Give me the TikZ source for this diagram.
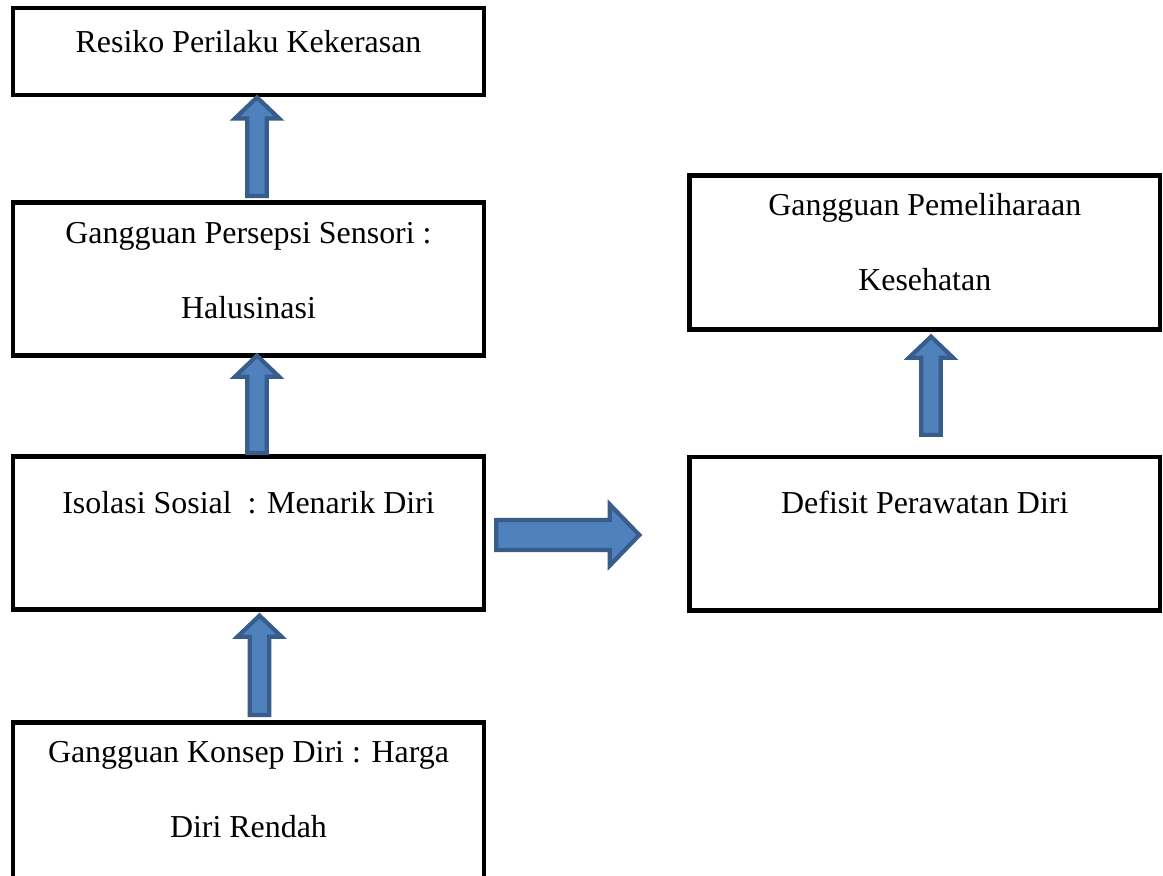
\documentclass[tikz,border=0pt]{standalone}
\usepackage{fontspec}
\setmainfont{Liberation Serif}
\usepackage{tikz}
\usetikzlibrary{calc}
\definecolor{arrowfill}{HTML}{4F81BD}
\definecolor{arrowline}{HTML}{385D8A}
\tikzset{
  box/.style={draw, line width=3pt, rectangle, inner sep=0pt, minimum width=11.775cm},
  boxtext/.style={font=\fontsize{22.7}{53.3}\selectfont, align=center, inner sep=0pt, anchor=base},
  blockarrow/.style={fill=arrowfill, draw=arrowline, line width=3pt, line join=miter}
}
\newcommand{\blockup}[2]{%
  \draw[blockarrow] let \p1=#1, \p2=#2 in
    (\x1-7pt,\y1) -- (\x1-7pt,\y2-15pt) -- (\x1-15.7pt,\y2-15pt) -- (\x1,\y2)
    -- (\x1+15.7pt,\y2-15pt) -- (\x1+7pt,\y2-15pt) -- (\x1+7pt,\y1) -- cycle;}
\newcommand{\blockright}[2]{%
  \draw[blockarrow] let \p1=#1, \p2=#2 in
    (\x1,\y1-10.6pt) -- (\x2-21pt,\y1-10.6pt) -- (\x2-21pt,\y1-21.7pt) -- (\x2,\y1)
    -- (\x2-21pt,\y1+21.7pt) -- (\x2-21pt,\y1+10.6pt) -- (\x1,\y1+10.6pt) -- cycle;}
\begin{document}
\begin{tikzpicture}[x=0.025cm,y=-0.025cm]
\useasboundingbox (0,0) rectangle (1163,875);

\node[box, minimum height=2.1875cm] (risiko) at (248.5,51.5) {};
\node[box, minimum height=3.825cm] (halusinasi) at (248.5,279) {};
\node[box, minimum height=3.825cm] (isolasi) at (248.5,533) {};
\node[box, minimum height=4cm] (hargadiri) at (248.5,802.5) {};
\node[box, minimum width=11.7625cm, minimum height=3.85cm] (pemeliharaan) at (924.75,252.5) {};
\node[box, minimum width=11.7625cm, minimum height=3.8375cm] (defisit) at (924.75,533.75) {};

\node[boxtext] (risikotext) at (248.5,52) {Resiko Perilaku Kekerasan};
\node[boxtext] (halusinasitext) at (248.5,318) {Gangguan Persepsi Sensori :\\Halusinasi};
\node[boxtext] (isolasitext) at (248.5,513) {Isolasi Sosial\ \ : Menarik Diri};
\node[boxtext] (hargaditext) at (248.5,837) {Gangguan Konsep Diri : Harga\\Diri Rendah};
\node[boxtext] (pemeliharaantext) at (924.75,290) {Gangguan Pemeliharaan\\Kesehatan};
\node[boxtext] (defisittext) at (924.75,513) {Defisit Perawatan Diri};

\blockup{($(halusinasi.north)+(8.5,-4.4)$)}{($(risiko.south)+(8.5,0)$)}
\blockup{($(isolasi.north)+(8.5,-1.4)$)}{($(halusinasi.south)+(8.5,-2)$)}
\blockup{($(hargadiri.north)+(11,-5.4)$)}{($(isolasi.south)+(11,4)$)}
\blockup{($(defisit.north)+(6.25,-20)$)}{($(pemeliharaan.south)+(6.25,5)$)}
\blockright{($(isolasi.east)+(10,2)$)}{($(defisit.west)+(-48,2)$)}
\end{tikzpicture}
\end{document}
